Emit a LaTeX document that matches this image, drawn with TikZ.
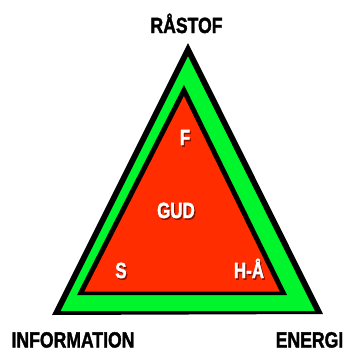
\documentclass[tikz,border=0pt]{standalone}
\usepackage{fontspec}
\setmainfont{Liberation Sans}
\newfontfamily\heavy{Liberation Sans Bold}[FakeBold=2]
\definecolor{tgreen}{RGB}{0,245,45}
\definecolor{tred}{RGB}{255,45,0}
\definecolor{tshadow}{RGB}{140,15,0}
\newcommand{\shtext}[1]{\makebox[0pt][l]{\kern1.6pt\raisebox{-1.6pt}{\textcolor{tshadow}{#1}}}#1}
\begin{document}
\begin{tikzpicture}[x=1pt,y=-1pt,
  lbl/.style={inner sep=0pt, anchor=base, text=black,
    font=\fontsize{22}{22}\selectfont\heavy, xscale=0.8},
  intxt/.style={inner sep=0pt, anchor=base, text=white,
    font=\fontsize{22}{22}\selectfont\heavy, xscale=0.77}]
\useasboundingbox (0,0) rectangle (345,349);
% outer triangle
\fill[black] (52,315) -- (323,314) -- (188,43) -- cycle;
\fill[tgreen] (60.7,311) -- (314.8,311) -- (188,56.4) -- cycle;
% inner triangle
\fill[black] (77,295) -- (287,295) -- (184,85) -- cycle;
\fill[tred] (84.4,291.5) -- (279.7,291.5) -- (183.9,96.2) -- cycle;
% corner labels
\node[lbl] (rastof) at (186.5,33) {RÅSTOF};
\node[lbl] (info) at (73,347.5) {INFORMATION};
\node[lbl] (energi) at (309.5,347.5) {ENERGI};
% inner labels with shadow
\node[intxt] (f) at (185,145) {\shtext{F}};
\node[intxt] (gud) at (176,218) {\shtext{GUD}};
\node[intxt] (s) at (121,278) {\shtext{S}};
\node[intxt] (ha) at (249,278) {\shtext{H-Å}};
\end{tikzpicture}
\end{document}
